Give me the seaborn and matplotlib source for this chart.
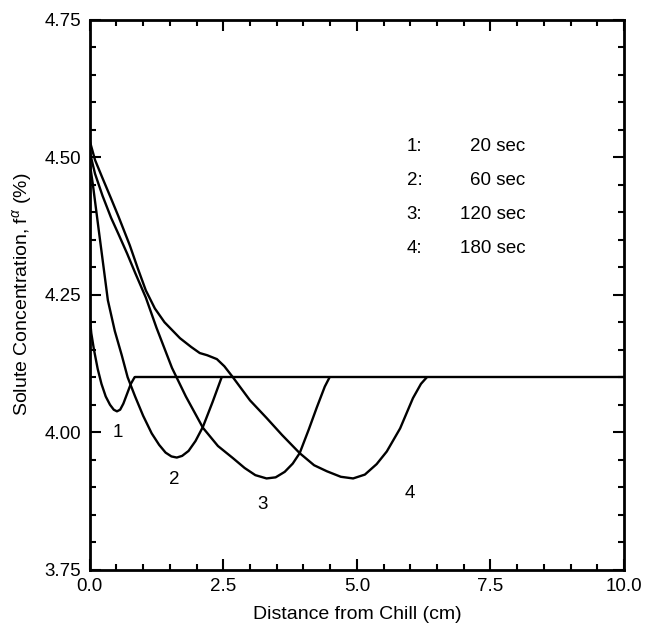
import numpy as np
import pandas as pd
import matplotlib
matplotlib.use("Agg")
import matplotlib.pyplot as plt
from matplotlib.ticker import MultipleLocator, FormatStrFormatter
import seaborn as sns

# curves: distance from chill (cm) vs solute concentration (%)
c1_x = [0.0, 0.03, 0.08, 0.15, 0.22, 0.3, 0.38, 0.45, 0.51, 0.57, 0.63, 0.7, 0.77, 0.84]
c1_y = [4.21, 4.18, 4.15, 4.115, 4.088, 4.065, 4.05, 4.041, 4.038, 4.041, 4.052, 4.07, 4.088, 4.10]

c2_x = [0.0, 0.06, 0.17, 0.34, 0.47, 0.6, 0.71, 0.85, 1.0, 1.16, 1.3, 1.42, 1.53, 1.63,
        1.73, 1.85, 1.98, 2.12, 2.3, 2.47]
c2_y = [4.49, 4.45, 4.367, 4.24, 4.184, 4.14, 4.10, 4.065, 4.03, 3.998, 3.977, 3.963, 3.956, 3.954,
        3.957, 3.966, 3.984, 4.01, 4.055, 4.10]

c3_x = [0.0, 0.1, 0.24, 0.4, 0.54, 0.7, 0.85, 1.05, 1.25, 1.54, 1.8, 2.12, 2.4, 2.68,
        2.9, 3.1, 3.31, 3.48, 3.65, 3.8, 3.93, 4.1, 4.25, 4.4, 4.49]
c3_y = [4.51, 4.47, 4.43, 4.39, 4.36, 4.325, 4.29, 4.245, 4.19, 4.117, 4.065, 4.008,
        3.975, 3.953, 3.935, 3.922, 3.916, 3.918, 3.928, 3.943, 3.962, 4.005, 4.045, 4.083, 4.10]

c4_x = [0.0, 0.1, 0.24, 0.4, 0.54, 0.75, 0.9, 1.05, 1.22, 1.4, 1.69, 1.9, 2.06, 2.2,
        2.38, 2.52, 2.68, 3.0, 3.31, 3.6, 3.93, 4.2, 4.44, 4.7, 4.93, 5.15, 5.37, 5.56,
        5.81, 6.05, 6.2, 6.31]
c4_y = [4.53, 4.495, 4.462, 4.425, 4.392, 4.34, 4.298, 4.258, 4.225, 4.20, 4.171, 4.155,
        4.144, 4.14, 4.133, 4.12, 4.10, 4.058, 4.026, 3.995, 3.962, 3.94, 3.929, 3.919,
        3.916, 3.923, 3.942, 3.965, 4.007, 4.062, 4.088, 4.10]

plateau_x = [0.84, 10.0]
plateau_y = [4.10, 4.10]

curve_labels = ["1", "2", "3", "4"]
label_x = [0.52, 1.59, 3.24, 5.99]
label_y = [4.00, 3.914, 3.868, 3.889]

legend_keys = ["1:", "2:", "3:", "4:"]
legend_times = ["20 sec", "60 sec", "120 sec", "180 sec"]
legend_y = [4.520, 4.458, 4.396, 4.334]

sns.set_style("ticks")
plt.rcParams["font.family"] = ["Liberation Sans", "DejaVu Sans"]
plt.rcParams["mathtext.fontset"] = "custom"
plt.rcParams["mathtext.it"] = "Liberation Sans:italic"
plt.rcParams["mathtext.rm"] = "Liberation Sans"
plt.rcParams["text.color"] = "black"
plt.rcParams["axes.labelcolor"] = "black"
plt.rcParams["xtick.color"] = "black"
plt.rcParams["ytick.color"] = "black"
plt.rcParams["axes.edgecolor"] = "black"

fig, ax = plt.subplots(figsize=(6.5, 6.38), dpi=100)
fig.subplots_adjust(left=0.138, right=0.96, top=0.969, bottom=0.107)

for xs, ys in [(c1_x, c1_y), (c2_x, c2_y), (c3_x, c3_y), (c4_x, c4_y), (plateau_x, plateau_y)]:
    sns.lineplot(x=xs, y=ys, sort=False, estimator=None, color="black", linewidth=1.7, ax=ax)

for lab, lx, ly in zip(curve_labels, label_x, label_y):
    ax.text(lx, ly, lab, fontsize=13.5, ha="center", va="center")

for key, t, ly in zip(legend_keys, legend_times, legend_y):
    ax.text(5.93, ly, key, fontsize=13.5, ha="left", va="center")
    ax.text(8.15, ly, t, fontsize=13.5, ha="right", va="center")

ax.set_xlim(0, 10)
ax.set_ylim(3.75, 4.75)
ax.xaxis.set_major_locator(MultipleLocator(2.5))
ax.xaxis.set_minor_locator(MultipleLocator(0.5))
ax.yaxis.set_major_locator(MultipleLocator(0.25))
ax.yaxis.set_minor_locator(MultipleLocator(0.05))
ax.xaxis.set_major_formatter(FormatStrFormatter("%.1f"))
ax.yaxis.set_major_formatter(FormatStrFormatter("%.2f"))

ax.tick_params(which="both", direction="in", top=True, right=True, width=1.5,
               labelsize=13.5, pad=6, colors="black")
ax.tick_params(which="major", length=8)
ax.tick_params(which="minor", length=4.5)
for sp in ax.spines.values():
    sp.set_linewidth(2.0)
    sp.set_visible(True)
    sp.set_color("black")

ax.set_xlabel("Distance from Chill (cm)", fontsize=14, labelpad=8)
ax.set_ylabel(r"Solute Concentration, f$^{\alpha}$ (%)", fontsize=14, labelpad=8)

fig.savefig("out.png", dpi=100)
